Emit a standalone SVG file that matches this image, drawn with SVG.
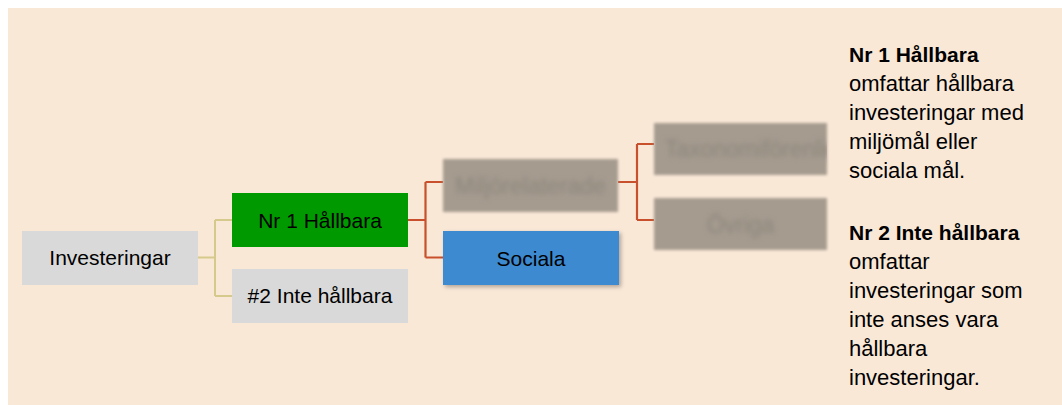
<svg xmlns="http://www.w3.org/2000/svg" width="1062" height="405" viewBox="0 0 1062 405">
<defs>
<style>
text{font-family:"Liberation Sans",Arial,sans-serif}
.bt{font-size:21px;fill:#000;text-anchor:middle}
.blt{font-size:23px;fill:#8d857b;text-anchor:middle}
.rt{font-size:22px;fill:#000}
.b{font-weight:bold;font-size:21px}
.cy{stroke:#d6c98c;stroke-width:2;fill:none}
.cr{stroke:#c8502c;stroke-width:2.2;fill:none}
</style>
<filter id="blur" x="-10%" y="-20%" width="120%" height="140%">
<feGaussianBlur stdDeviation="1.6"/>
</filter>
<filter id="blurT" x="-10%" y="-30%" width="120%" height="160%">
<feGaussianBlur stdDeviation="2.4"/>
</filter>
<filter id="shadow" x="-10%" y="-20%" width="130%" height="150%">
<feDropShadow dx="2" dy="2" stdDeviation="2" flood-color="#000" flood-opacity="0.3"/>
</filter>
<clipPath id="clipTax"><rect x="650" y="115" width="177" height="66"/></clipPath>
</defs>
<rect x="8" y="8" width="1054" height="397" fill="#fae8d7"/>
<g id="connectors">
<path class="cy" d="M198 257.5H215M215 220V296M215 220H232M215 296H232"/>
<path class="cr" d="M408 220H425.5M425.5 182V257.5M425.5 182H443M425.5 257.5H443"/>
<path class="cr" d="M618 182H637M637 144V220M637 144H654M637 220H654"/>
</g>
<g id="investeringar">
<rect x="22" y="231" width="176" height="54" fill="#d9d9d9"/>
<text class="bt" x="110" y="265">Investeringar</text>
</g>
<g id="nr1">
<rect x="232" y="193" width="176" height="54" fill="#009900"/>
<text class="bt" x="320" y="228">Nr 1 Hållbara</text>
</g>
<g id="nr2">
<rect x="232" y="269" width="176" height="54" fill="#d9d9d9"/>
<text class="bt" x="320" y="303">#2 Inte hållbara</text>
</g>
<g id="miljo">
<rect x="443" y="159" width="175" height="53" fill="#a59b8f" filter="url(#blur)"/>
<text class="blt" x="530.5" y="194" filter="url(#blurT)">Miljörelaterade</text>
</g>
<g id="sociala">
<rect x="443" y="231" width="176" height="54" fill="#3c8ad0" filter="url(#shadow)"/>
<text class="bt" x="531" y="265.5">Sociala</text>
</g>
<g id="taxonomi">
<rect x="654" y="123" width="173" height="52" fill="#a59b8f" filter="url(#blur)"/>
<g clip-path="url(#clipTax)"><text class="blt" x="758" y="157" filter="url(#blurT)">Taxonomiförenliga</text></g>
</g>
<g id="ovriga">
<rect x="654" y="198" width="173" height="52" fill="#a59b8f" filter="url(#blur)"/>
<text class="blt" x="740.5" y="233" filter="url(#blurT)">Övriga</text>
</g>
<g id="legend">
<text class="rt" x="849"><tspan class="b" x="849" y="62">Nr 1 Hållbara</tspan><tspan x="849" y="91">omfattar hållbara</tspan><tspan x="849" y="120">investeringar med</tspan><tspan x="849" y="149">miljömål eller</tspan><tspan x="849" y="178">sociala mål.</tspan><tspan class="b" x="849" y="240">Nr 2 Inte hållbara</tspan><tspan x="849" y="269">omfattar</tspan><tspan x="849" y="298">investeringar som</tspan><tspan x="849" y="327">inte anses vara</tspan><tspan x="849" y="356">hållbara</tspan><tspan x="849" y="385">investeringar.</tspan></text>
</g>
</svg>
